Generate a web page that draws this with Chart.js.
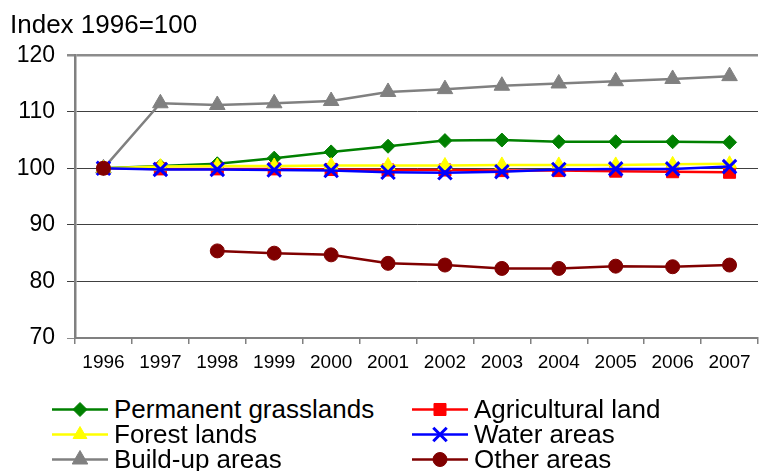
<!DOCTYPE html>
<html>
<head>
<meta charset="utf-8">
<script src="https://cdn.jsdelivr.net/npm/chart.js@4.4.1/dist/chart.umd.min.js"></script>
<style>
  html,body{margin:0;padding:0;background:#fff;}
  #wrap{position:relative;width:772px;height:471px;font-family:"Liberation Sans",Arial,sans-serif;}
  #box{position:absolute;left:0;top:0;width:772px;height:390px;}
  #legend{position:absolute;left:52px;top:397px;display:grid;grid-template-columns:360px 300px;row-gap:0;}
  .item{display:flex;align-items:center;height:25px;font-size:26px;color:#000;white-space:nowrap;}
  .item canvas{margin-right:6px;}
</style>
</head>
<body>
<div id="wrap">
  <div id="box"><canvas id="landChart"></canvas></div>
  <div id="legend"></div>
</div>
<script>
// data
const years = ['1996','1997','1998','1999','2000','2001','2002','2003','2004','2005','2006','2007'];
const yTicks = [70,80,90,100,110,120];
const grasslands = [100,100.4,100.8,101.8,102.9,103.9,104.9,105.0,104.7,104.7,104.7,104.6];
const agricultural = [100,99.9,99.9,99.9,99.8,99.7,99.7,99.6,99.6,99.5,99.4,99.3];
const forest = [100,100.3,100.4,100.4,100.5,100.5,100.5,100.6,100.6,100.6,100.7,100.8];
const water = [100,99.8,99.8,99.7,99.6,99.3,99.2,99.4,99.8,99.9,99.9,100.3];
const buildup = [100,111.5,111.2,111.5,111.9,113.5,114.0,114.6,115.0,115.4,115.8,116.3];
const other = [100,null,85.4,85.0,84.7,83.2,82.9,82.3,82.3,82.7,82.6,82.9];

const FONT = '"Liberation Sans", Arial, sans-serif';

function ds(label,data,color,style,radius,order,extra){
  return Object.assign({
    label:label,data:data,borderColor:color,backgroundColor:color,
    pointBackgroundColor:color,pointBorderColor:color,
    pointStyle:style,pointRadius:radius,pointHoverRadius:radius,
    borderWidth:2.5,pointBorderWidth:1,tension:0,spanGaps:false,order:order
  },extra||{});
}

const datasets = [
  ds('Permanent grasslands',grasslands,'#008000','rectRot',7,5),
  ds('Agricultural land',agricultural,'#ff0000','rect',8.5,4),
  ds('Forest lands',forest,'#ffff00','triangle',8,3),
  ds('Water areas',water,'#0000ff','crossRot',9.5,2,{pointBorderWidth:3}),
  ds('Build-up areas',buildup,'#808080','triangle',9,6),
  ds('Other areas',other,'#800000','circle',7,1)
];

const ctx = document.getElementById('landChart');
const chart = new Chart(ctx,{
  type:'line',
  data:{labels:years,datasets:datasets},
  options:{
    responsive:true,maintainAspectRatio:false,animation:false,
    layout:{padding:{left:10,right:14,top:4,bottom:4}},
    plugins:{
      legend:{display:false},
      tooltip:{enabled:false},
      title:{display:true,text:'Index 1996=100',align:'start',color:'#000',
        font:{family:FONT,size:26,weight:'normal'},padding:{top:6,bottom:14}}
    },
    scales:{
      x:{
        offset:true,
        grid:{offset:true,drawOnChartArea:false,drawTicks:true,tickLength:6,color:'#808080',lineWidth:1.5},
        border:{color:'#808080',width:2},
        ticks:{color:'#000',font:{family:FONT,size:19},padding:7,maxRotation:0,autoSkip:false},
        afterFit:s=>{s.height=48;}
      },
      y:{
        min:70,max:120,
        afterBuildTicks:s=>{s.ticks=yTicks.map(v=>({value:v}));},
        grid:{
          color:c=>(c.tick.value===120||c.tick.value===70)?'#8c8c8c':'#404040',
          lineWidth:c=>c.tick.value===120?2.5:1,
          tickLength:8,drawTicks:true
        },
        border:{color:'#808080',width:2.5},
        ticks:{color:'#000',font:{family:FONT,size:23},padding:12},
        afterFit:s=>{s.width=65;}
      }
    }
  }
});

// legend in two columns, icons drawn the same way as the chart's markers
const legendEl = document.getElementById('legend');
datasets.forEach(d=>{
  const item = document.createElement('div');
  item.className='item';
  const c = document.createElement('canvas');
  c.width=56;c.height=25;
  const g = c.getContext('2d');
  g.strokeStyle=d.borderColor;g.lineWidth=2.5;
  g.beginPath();g.moveTo(0,12.5);g.lineTo(56,12.5);g.stroke();
  g.fillStyle=d.pointBackgroundColor;g.strokeStyle=d.pointBorderColor;g.lineWidth=d.pointBorderWidth;
  Chart.helpers.drawPoint(g,{pointStyle:d.pointStyle,radius:d.pointRadius,borderWidth:d.pointBorderWidth,rotation:0},28,12.5);
  item.appendChild(c);
  const t = document.createElement('span');
  t.textContent=d.label;
  item.appendChild(t);
  legendEl.appendChild(item);
});
</script>
</body>
</html>
